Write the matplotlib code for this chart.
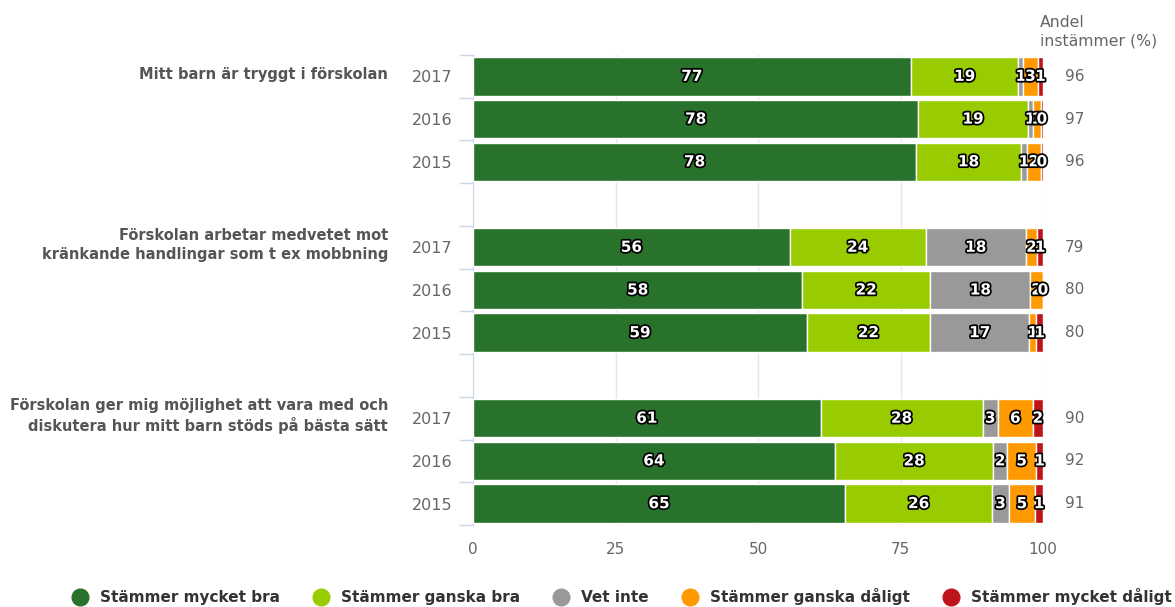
import matplotlib
matplotlib.use("Agg")
import matplotlib.pyplot as plt
import matplotlib.patheffects as pe
from matplotlib.lines import Line2D
import numpy as np

# data (percent per answer, 9 bars top to bottom)
questions = ["Mitt barn är tryggt i förskolan",
             "Förskolan arbetar medvetet mot\nkränkande handlingar som t ex mobbning",
             "Förskolan ger mig möjlighet att vara med och\ndiskutera hur mitt barn stöds på bästa sätt"]
years = ["2017", "2016", "2015"] * 3
series_names = ["Stämmer mycket bra", "Stämmer ganska bra", "Vet inte",
                "Stämmer ganska dåligt", "Stämmer mycket dåligt"]
mycket_bra = [76.8, 77.9, 77.6, 55.6, 57.8, 58.6, 61.0, 63.5, 65.3]
ganska_bra = [18.9, 19.1, 18.3, 23.8, 22.4, 21.6, 28.4, 27.8, 25.8]
vet_inte = [0.8, 0.9, 1.1, 17.6, 17.6, 17.4, 2.7, 2.4, 2.9]
ganska_daligt = [2.6, 1.4, 2.4, 2.0, 2.2, 1.2, 6.1, 5.1, 4.6]
mycket_daligt = [0.9, 0.4, 0.4, 1.0, 0.0, 1.2, 1.8, 1.2, 1.4]
andel_instammer = [96, 97, 96, 79, 80, 80, 90, 92, 91]

colors = ["#28722c", "#99cc00", "#999999", "#ff9900", "#c0141c"]

plt.rcParams['font.family'] = ['DejaVu Sans']

fig = plt.figure(figsize=(11.75, 6.07), dpi=100)
ax = fig.add_axes([473 / 1175, 1 - 525 / 607, 570 / 1175, 470 / 607])

pos = np.array([0, 1, 2, 4, 5, 6, 8, 9, 10])
data = np.array([mycket_bra, ganska_bra, vet_inte, ganska_daligt, mycket_daligt])
data = data / data.sum(axis=0) * 100  # percent stacking

left = np.zeros(len(pos))
for vals, col in zip(data, colors):
    ax.barh(pos, vals, left=left, height=0.9, color=col, edgecolor="white",
            linewidth=1, zorder=3)
    for p, l, v in zip(pos, left, vals):
        ax.text(l + v / 2, p, str(int(round(v))), ha="center", va="center",
                color="white", fontsize=11, fontweight="bold", zorder=5,
                path_effects=[pe.withStroke(linewidth=2.5, foreground="black")])
    left += vals

ax.set_xlim(0, 100)
ax.set_ylim(10.5, -0.5)
ax.set_xticks([0, 25, 50, 75, 100])
ax.tick_params(axis="x", length=0, pad=12, labelsize=11, labelcolor="#666666")
ax.grid(axis="x", color="#e6e6e6", linewidth=1, zorder=0)

ax.set_yticks(pos)
ax.set_yticklabels(years)
ax.tick_params(axis="y", which="major", length=0, pad=15, labelsize=11.5,
               labelcolor="#666666")
ax.set_yticks(np.arange(-0.5, 11, 1), minor=True)
ax.tick_params(axis="y", which="minor", length=10, color="#ccd6eb", width=1)

for s in ["top", "right", "bottom"]:
    ax.spines[s].set_visible(False)
ax.spines["left"].set_color("#ccd6eb")

for q, p in zip(questions, [0, 4, 8]):
    ax.text(-0.149, p - 0.05, q, transform=ax.get_yaxis_transform(), ha="right",
            va="center", fontsize=10.5, fontweight="bold", color="#555555",
            linespacing=1.35)

for p, a in zip(pos, andel_instammer):
    ax.text(1.038, p, str(a), transform=ax.get_yaxis_transform(), ha="left",
            va="center", fontsize=11, color="#666666")

fig.text(1040 / 1175, 1 - 32 / 607, "Andel\ninstämmer (%)", ha="left",
         va="center", fontsize=11.3, color="#666666", linespacing=1.3)

handles = [Line2D([], [], marker="o", linestyle="", markersize=12,
                  markerfacecolor=c, markeredgecolor=c) for c in colors]
fig.legend(handles, series_names, loc="center", bbox_to_anchor=(0.526, 0.017),
           ncol=5, frameon=False, handletextpad=0.3, columnspacing=1.7,
           prop={"weight": "bold", "size": 11}, labelcolor="#333333")

fig.savefig("out.png", dpi=100)
